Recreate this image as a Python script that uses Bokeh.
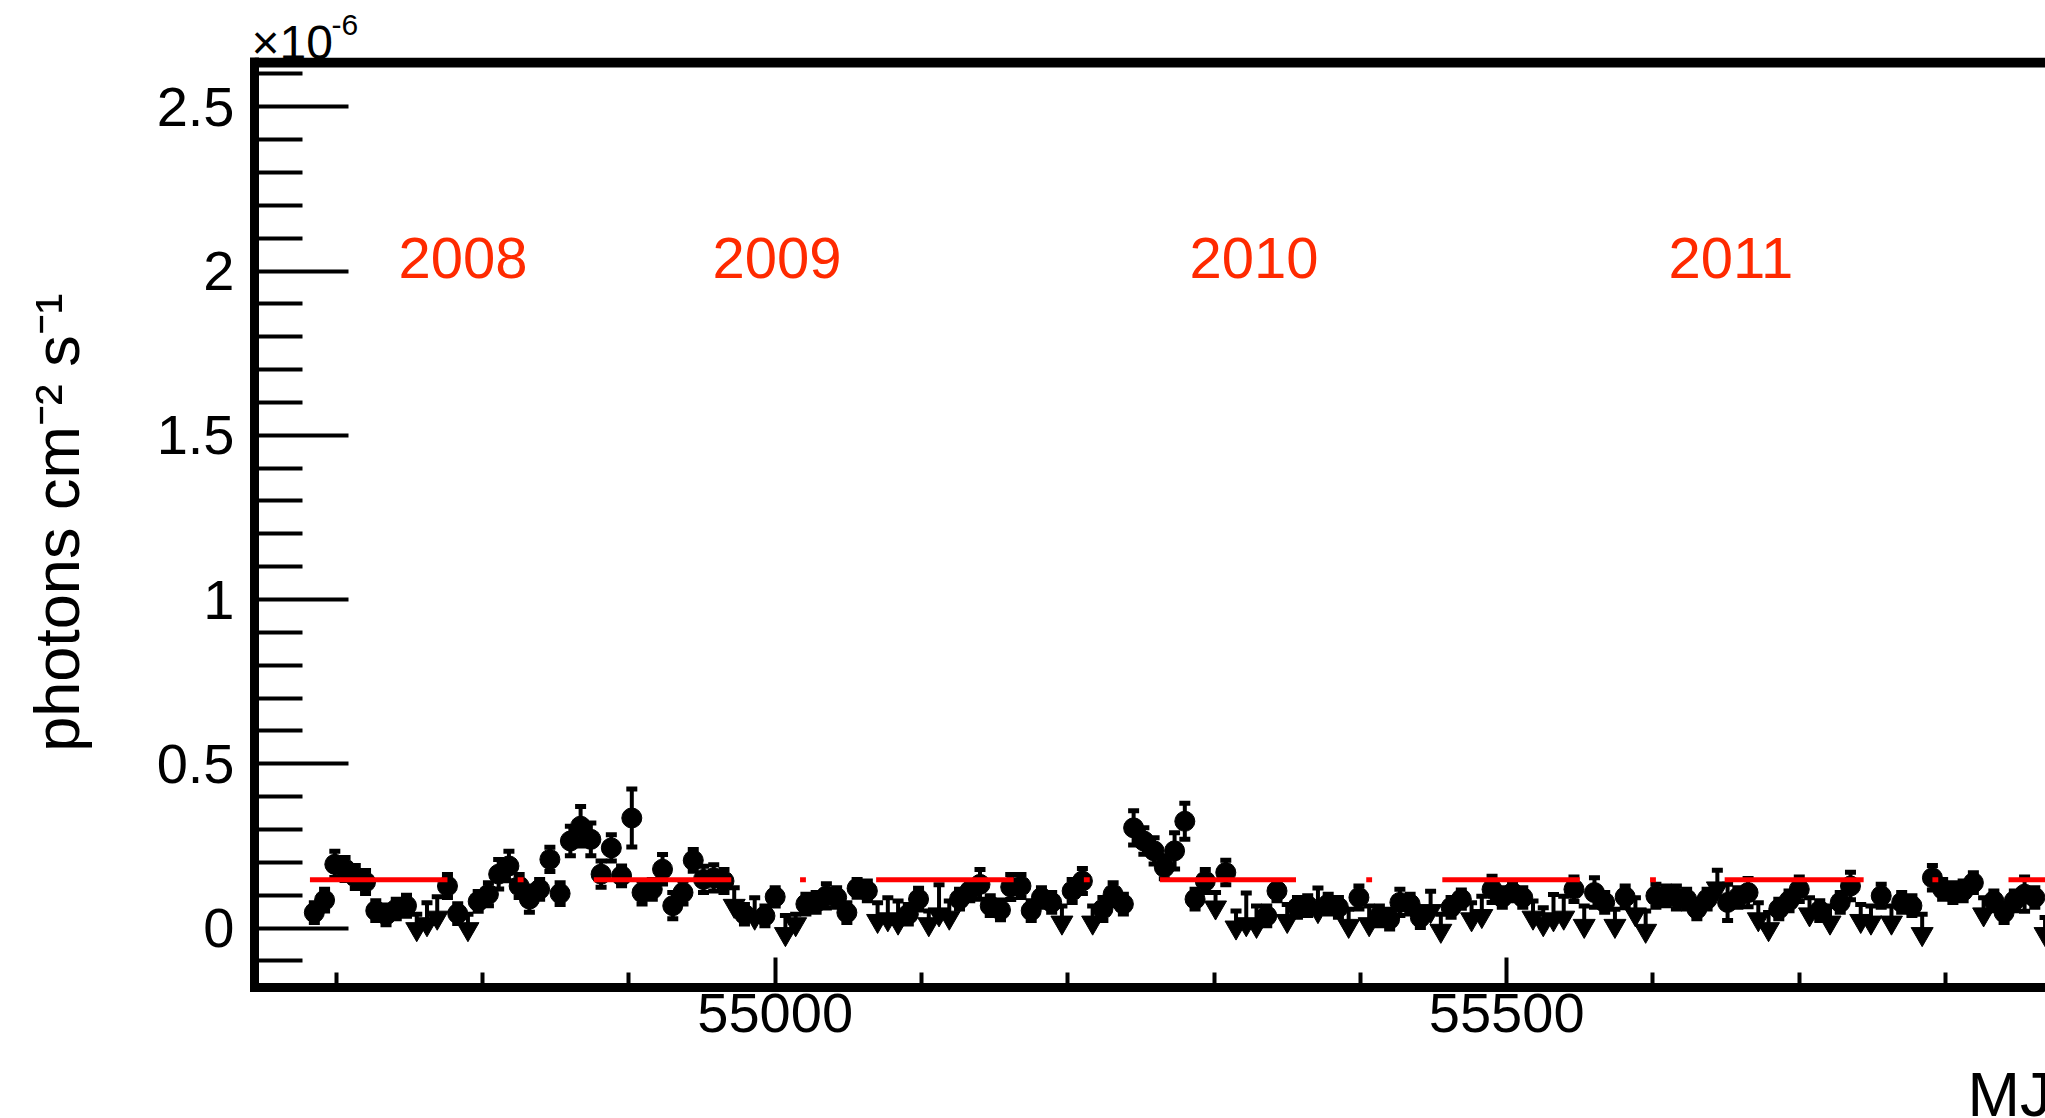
from bokeh.plotting import figure
from bokeh.models import Range1d, FixedTicker, Span, Title
from bokeh.core.properties import value
from bokeh.embed import file_html
from bokeh.resources import INLINE

# ---------------- data (flux in units of 1e-6 photons cm^-2 s^-1) ----------------
det_mjd = [54685, 54692, 54699, 54706, 54713, 54720, 54727, 54734, 54741, 54748,
           54776, 54783, 54797, 54804, 54811, 54818, 54825, 54832, 54839, 54846,
           54853, 54860, 54867, 54874, 54881, 54888, 54895, 54902, 54909, 54916,
           54923, 54930, 54937, 54944, 54951, 54958, 54965, 54979, 54993, 55000,
           55021, 55028, 55035, 55042, 55049, 55056, 55063, 55091, 55098, 55126,
           55133, 55140, 55147, 55154, 55161, 55168, 55175, 55182, 55189, 55203,
           55210, 55224, 55231, 55238, 55245, 55252, 55259, 55266, 55273, 55280,
           55287, 55294, 55308, 55336, 55343, 55357, 55364, 55378, 55385, 55399,
           55413, 55420, 55427, 55434, 55441, 55462, 55469, 55490, 55497, 55504,
           55511, 55546, 55560, 55567, 55581, 55602, 55609, 55616, 55623, 55630,
           55637, 55651, 55658, 55665, 55686, 55693, 55700, 55714, 55728, 55735,
           55756, 55770, 55777, 55791, 55798, 55805, 55812, 55819, 55833, 55840,
           55847, 55854, 55861]
det_flux = [0.047, 0.085, 0.194, 0.180, 0.155, 0.140, 0.053, 0.040, 0.058, 0.068,
            0.128, 0.044, 0.081, 0.103, 0.164, 0.189, 0.128, 0.088, 0.118, 0.209,
            0.105, 0.265, 0.310, 0.270, 0.164, 0.244, 0.159, 0.335, 0.108, 0.118,
            0.179, 0.068, 0.108, 0.206, 0.148, 0.153, 0.143, 0.042, 0.037, 0.095,
            0.073, 0.078, 0.098, 0.093, 0.047, 0.121, 0.113, 0.042, 0.088, 0.088,
            0.113, 0.133, 0.068, 0.055, 0.125, 0.128, 0.053, 0.093, 0.078, 0.113,
            0.143, 0.058, 0.103, 0.073, 0.305, 0.265, 0.235, 0.185, 0.235, 0.325,
            0.088, 0.143, 0.169, 0.037, 0.113, 0.063, 0.068, 0.073, 0.063, 0.093,
            0.037, 0.027, 0.078, 0.073, 0.032, 0.063, 0.088, 0.118, 0.093, 0.108,
            0.093, 0.118, 0.108, 0.078, 0.095, 0.098, 0.098, 0.093, 0.088, 0.058,
            0.088, 0.078, 0.093, 0.108, 0.058, 0.083, 0.118, 0.053, 0.078, 0.128,
            0.098, 0.078, 0.068, 0.153, 0.118, 0.108, 0.113, 0.138, 0.083, 0.047,
            0.083, 0.103, 0.093]
det_err = [0.030, 0.033, 0.040, 0.035, 0.035, 0.035, 0.030, 0.030, 0.030, 0.032,
           0.035, 0.030, 0.030, 0.035, 0.045, 0.045, 0.035, 0.040, 0.030, 0.037,
           0.033, 0.045, 0.060, 0.050, 0.040, 0.040, 0.030, 0.088, 0.035, 0.030,
           0.045, 0.040, 0.035, 0.033, 0.040, 0.040, 0.035, 0.030, 0.030, 0.028,
           0.030, 0.030, 0.037, 0.030, 0.030, 0.027, 0.030, 0.030, 0.033, 0.030,
           0.030, 0.045, 0.030, 0.030, 0.038, 0.035, 0.030, 0.030, 0.030, 0.035,
           0.038, 0.035, 0.035, 0.030, 0.052, 0.040, 0.040, 0.035, 0.055, 0.055,
           0.030, 0.035, 0.037, 0.030, 0.030, 0.030, 0.030, 0.030, 0.030, 0.035,
           0.030, 0.030, 0.040, 0.030, 0.030, 0.030, 0.028, 0.040, 0.030, 0.025,
           0.030, 0.037, 0.045, 0.030, 0.033, 0.035, 0.030, 0.035, 0.030, 0.030,
           0.030, 0.055, 0.030, 0.043, 0.030, 0.030, 0.037, 0.030, 0.030, 0.042,
           0.035, 0.030, 0.030, 0.037, 0.030, 0.030, 0.030, 0.030, 0.030, 0.030,
           0.030, 0.052, 0.030]

ul_mjd = [54755, 54762, 54769, 54790, 54972, 54986, 55007, 55014, 55070, 55077,
          55084, 55105, 55112, 55119, 55196, 55217, 55301, 55315, 55322, 55329,
          55350, 55371, 55392, 55406, 55448, 55455, 55476, 55483, 55518, 55525,
          55532, 55539, 55553, 55574, 55588, 55595, 55644, 55672, 55679, 55707,
          55721, 55742, 55749, 55763, 55784, 55826, 55868]
ul_flux = [-0.003, 0.012, 0.032, -0.003, 0.068, 0.032, -0.018, 0.012, 0.022, 0.027,
           0.017, 0.012, 0.042, 0.032, 0.017, 0.017, 0.063, 0.002, 0.012, 0.007,
           0.022, 0.052, 0.007, 0.012, 0.052, -0.008, 0.027, 0.037, 0.032, 0.012,
           0.027, 0.032, 0.007, 0.007, 0.042, -0.008, 0.121, 0.027, -0.003, 0.042,
           0.017, 0.022, 0.017, 0.017, -0.018, 0.042, -0.018]
ul_err = [0.045, 0.065, 0.063, 0.045, 0.055, 0.060, 0.056, 0.030, 0.055, 0.065,
          0.065, 0.040, 0.090, 0.050, 0.050, 0.050, 0.045, 0.050, 0.095, 0.060,
          0.050, 0.070, 0.050, 0.055, 0.060, 0.050, 0.050, 0.060, 0.050, 0.050,
          0.075, 0.065, 0.060, 0.050, 0.050, 0.060, 0.055, 0.050, 0.050, 0.050,
          0.050, 0.050, 0.050, 0.050, 0.060, 0.050, 0.050]

avg_start = [54682, 54824, 54876, 55017, 55069, 55211, 55263, 55404, 55456, 55598, 55649, 55791, 55843]
avg_end   = [54776, 54828, 54970, 55021, 55163, 55215, 55356, 55408, 55550, 55602, 55744, 55795, 55937]
avg_flux  = [0.147, 0.147, 0.147, 0.147, 0.147, 0.147, 0.147, 0.147, 0.147, 0.147, 0.147, 0.147, 0.147]

years = ["2008", "2009", "2010", "2011"]
year_x = [54742.5, 54957.2, 55283.2, 55610.6]
year_y = [2.041, 2.041, 2.041, 2.041]

y_ticks = [0, 0.5, 1, 1.5, 2, 2.5]
y_tick_labels = ["0", "0.5", "1", "1.5", "2", "2.5"]
y_minor = [-0.1, 0.1, 0.2, 0.3, 0.4, 0.6, 0.7, 0.8, 0.9, 1.1, 1.2, 1.3, 1.4,
           1.6, 1.7, 1.8, 1.9, 2.1, 2.2, 2.3, 2.4, 2.6]
x_ticks = [55000, 55500]
x_tick_labels = ["55000", "55500"]
x_minor = [54700, 54800, 54900, 55100, 55200, 55300, 55400, 55600, 55700, 55800]

FONT = "Liberation Sans"
Y_TOP_LINE = 2.635   # y of the upper frame border

p = figure(width=2045, height=1118, output_backend="svg", toolbar_location=None,
           x_range=Range1d(54644.1, 55868.3), y_range=Range1d(-0.181, 2.650),
           min_border_left=254, min_border_top=57, min_border_bottom=131,
           min_border_right=0)
p.outline_line_color = None
p.grid.visible = False
p.background_fill_color = "white"
p.border_fill_color = "white"

xa = p.xaxis[0]
xa.ticker = FixedTicker(ticks=x_ticks, minor_ticks=x_minor)
xa.major_label_overrides = {t: l for t, l in zip(x_ticks, x_tick_labels)}
ya = p.yaxis[0]
ya.ticker = FixedTicker(ticks=y_ticks, minor_ticks=y_minor)
ya.major_label_overrides = {t: l for t, l in zip(y_ticks, y_tick_labels)}

for ax, mj, mn in ((xa, 30, 15), (ya, 94, 48)):
    ax.axis_line_width = 9
    ax.axis_line_color = "black"
    ax.major_tick_in = mj
    ax.major_tick_out = 0
    ax.minor_tick_in = mn
    ax.minor_tick_out = 0
    ax.major_tick_line_width = 4
    ax.minor_tick_line_width = 4
    ax.major_tick_line_color = "black"
    ax.minor_tick_line_color = "black"
    ax.major_label_text_font = FONT
    ax.major_label_text_font_size = "56px"
    ax.major_label_text_color = "black"
xa.axis_line_cap = "square"
ya.major_label_standoff = 20
xa.major_label_standoff = 6

ya.axis_label = "photons cm\u207b\u00b2 s\u207b\u00b9"
ya.axis_label_text_font = FONT
ya.axis_label_text_font_size = "63px"
ya.axis_label_text_font_style = "normal"
ya.axis_label_text_color = "black"
ya.axis_label_standoff = 62

# upper frame border
p.add_layout(Span(location=Y_TOP_LINE, dimension="width", line_width=10, line_color="black"))

# multiplier "x10" with its exponent above the frame
mult = Title(text="\u00d710", align="left", offset=-3, text_font=FONT, text_font_size="48px",
             text_font_style="normal", text_color="black", standoff=-22)
p.add_layout(mult, "above")
p.title.text = "-6"
p.title.align = "left"
p.title.offset = 77
p.title.text_font = FONT
p.title.text_font_size = "30px"
p.title.text_font_style = "normal"
p.title.text_color = "black"
p.title.standoff = -20

# x-axis title (runs off the right edge)
xt = Title(text="\nMJD", align="left", offset=1713, text_font=FONT, text_font_size="63px",
           text_font_style="normal", text_color="black", vertical_align="top",
           text_line_height=0.57, standoff=-30)
p.add_layout(xt, "below")

# error bars for detections
det_lo = [f - e for f, e in zip(det_flux, det_err)]
det_hi = [f + e for f, e in zip(det_flux, det_err)]
p.segment(x0=det_mjd, y0=det_lo, x1=det_mjd, y1=det_hi, line_width=4, line_color="black")
p.rect(x=det_mjd, y=det_hi, width=11, height=5, width_units="screen", height_units="screen",
       fill_color="black", line_color=None)
p.rect(x=det_mjd, y=det_lo, width=11, height=5, width_units="screen", height_units="screen",
       fill_color="black", line_color=None)

# upper-limit bars (upward part)
ul_hi = [f + e for f, e in zip(ul_flux, ul_err)]
p.segment(x0=ul_mjd, y0=ul_flux, x1=ul_mjd, y1=ul_hi, line_width=4, line_color="black")
p.rect(x=ul_mjd, y=ul_hi, width=11, height=5, width_units="screen", height_units="screen",
       fill_color="black", line_color=None)

p.scatter(x=det_mjd, y=det_flux, marker="circle", size=20, fill_color="black", line_color="black")
p.scatter(x=ul_mjd, y=ul_flux, marker="inverted_triangle", size=22, fill_color="black",
          line_color="black")

# average flux segments
p.segment(x0=avg_start, y0=avg_flux, x1=avg_end, y1=avg_flux, line_width=5, line_color="#ff0000")

# year labels
p.text(x=year_x, y=year_y, text=years, text_font=value(FONT), text_font_size="58px",
       text_color="#ff2a00", text_align="left", text_baseline="middle")

open("out.html", "w").write(file_html(p, INLINE))
